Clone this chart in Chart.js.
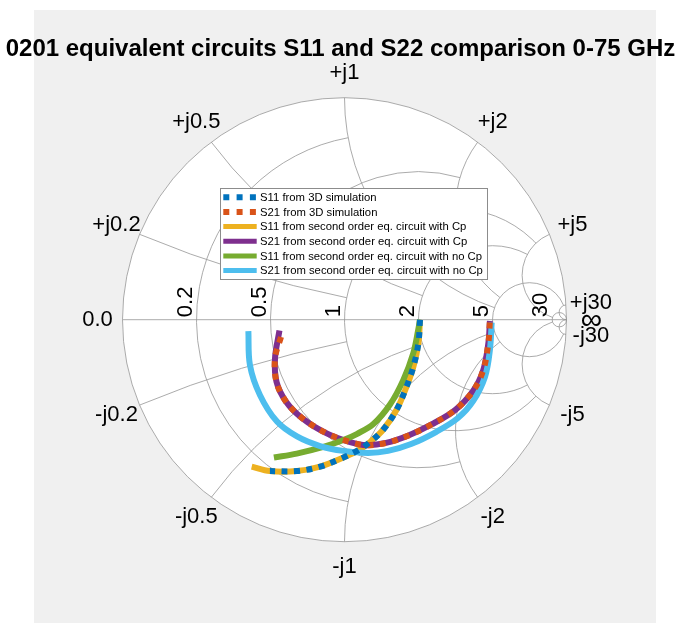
<!DOCTYPE html>
<html>
<head>
<meta charset="utf-8">
<script src="https://cdn.jsdelivr.net/npm/chart.js@4.4.1/dist/chart.umd.min.js"></script>
<style>
  html, body { margin: 0; padding: 0; background: #ffffff; }
  canvas { display: block; }
</style>
</head>
<body>
<canvas id="smith" width="681" height="623"></canvas>
<script>
// ---- text ----
const titleText = '0201 equivalent circuits S11 and S22 comparison 0-75 GHz';
const seriesNames = [
  'S11 from 3D simulation',
  'S21 from 3D simulation',
  'S11 from second order eq. circuit with Cp',
  'S21 from second order eq. circuit with Cp',
  'S11 from second order eq. circuit with no Cp',
  'S21 from second order eq. circuit with no Cp'
];

// ---- Smith grid: circle values and the value at which each circle stops ----
const gridValues = [0.2, 0.5, 1, 2, 5, 30];
const gridLimits = [1, 2, 5, 5, 30, Infinity];
const realAxisLabels = ['0.2', '0.5', '1', '2', '5', '30'];
const upperRimLabels = ['+j0.2', '+j0.5', '+j1', '+j2', '+j5', '+j30'];
const lowerRimLabels = ['-j0.2', '-j0.5', '-j1', '-j2', '-j5', '-j30'];
const leftRimLabel = '0.0';
const rightRimLabel = '\u221E';

// ---- reflection coefficients (real / imaginary parts) ----
const s11Sim_re = [0.340, 0.333, 0.311, 0.279, 0.234, 0.173, 0.115, 0.061, -0.005, -0.110, -0.215, -0.336];
const s11Sim_im = [0.000, -0.105, -0.209, -0.303, -0.407, -0.497, -0.551, -0.589, -0.621, -0.662, -0.682, -0.682];

const s21Sim_re = [-0.286, -0.313, -0.306, -0.264, -0.191, -0.080, 0.025, 0.100, 0.187, 0.288, 0.392, 0.498, 0.579, 0.625, 0.648, 0.655];
const s21Sim_im = [-0.078, -0.174, -0.281, -0.368, -0.443, -0.512, -0.551, -0.565, -0.555, -0.522, -0.472, -0.407, -0.321, -0.227, -0.106, -0.006];

const s11Cp_re = [0.340, 0.333, 0.311, 0.279, 0.234, 0.173, 0.115, 0.061, -0.005, -0.110, -0.215, -0.336, -0.418];
const s11Cp_im = [0.000, -0.105, -0.209, -0.303, -0.407, -0.497, -0.551, -0.589, -0.621, -0.662, -0.682, -0.682, -0.662];

const s21Cp_re = [-0.293, -0.313, -0.306, -0.264, -0.191, -0.080, 0.025, 0.100, 0.187, 0.288, 0.392, 0.498, 0.579, 0.625, 0.648, 0.655];
const s21Cp_im = [-0.049, -0.174, -0.281, -0.368, -0.443, -0.512, -0.551, -0.565, -0.555, -0.522, -0.472, -0.407, -0.321, -0.227, -0.106, -0.006];

const s11NoCp_re = [0.340, 0.332, 0.310, 0.265, 0.205, 0.130, 0.055, -0.005, -0.095, -0.215, -0.318];
const s11NoCp_im = [0.000, -0.046, -0.150, -0.271, -0.382, -0.470, -0.515, -0.542, -0.573, -0.603, -0.621];

const s21NoCp_re = [-0.433, -0.426, -0.381, -0.304, -0.214, -0.110, -0.005, 0.106, 0.196, 0.300, 0.412, 0.511, 0.580, 0.633, 0.655, 0.663];
const s21NoCp_im = [-0.051, -0.204, -0.339, -0.459, -0.526, -0.569, -0.591, -0.600, -0.591, -0.560, -0.506, -0.443, -0.366, -0.257, -0.136, -0.013];

const seriesColors = ['#0072BD', '#D95319', '#EDB120', '#7E2F8E', '#77AC30', '#4DBEEE'];

const FONT = '"Liberation Sans", Arial, Helvetica, sans-serif';
const GRID_COLOR = 'rgb(150,150,150)';

function toPoints(re, im) {
  return re.map((v, i) => ({ x: v, y: im[i] }));
}

// normalized impedance r + jx  ->  reflection coefficient
function gammaOf(r, x) {
  const den = (r + 1) * (r + 1) + x * x;
  return [(r * r - 1 + x * x) / den, (2 * x) / den];
}

const smithGrid = {
  id: 'smithGrid',
  beforeDraw(chart) {
    const { ctx } = chart;
    const xs = chart.scales.x, ys = chart.scales.y;
    const P = (gx, gy) => [xs.getPixelForValue(gx), ys.getPixelForValue(gy)];
    const [cx, cy] = P(0, 0);
    const R = xs.getPixelForValue(1) - cx;

    ctx.save();
    ctx.fillStyle = '#ffffff';
    ctx.fillRect(0, 0, chart.width, chart.height);
    ctx.fillStyle = '#f0f0f0';
    ctx.fillRect(34, 10, 622, 613);

    ctx.beginPath();
    ctx.arc(cx, cy, R, 0, Math.PI * 2);
    ctx.fillStyle = '#ffffff';
    ctx.fill();

    ctx.strokeStyle = GRID_COLOR;
    ctx.lineWidth = 0.8;

    // constant-resistance circles, each drawn for |x| <= its limit
    gridValues.forEach((r, i) => {
      const L = gridLimits[i];
      const c = r / (1 + r);
      const rho = 1 / (1 + r);
      let th = 0;
      if (L !== Infinity) {
        const g = gammaOf(r, L);
        th = Math.atan2(g[1], g[0] - c);
      }
      const [px, py] = P(c, 0);
      ctx.beginPath();
      ctx.arc(px, py, rho * R, th, Math.PI * 2 - th, false);
      ctx.stroke();
    });

    // constant-reactance arcs, each drawn from r = 0 up to its limit
    gridValues.forEach((v, i) => {
      const L = gridLimits[i];
      [v, -v].forEach(x => {
        const g0 = gammaOf(0, x);
        const g1 = L === Infinity ? [1, 0] : gammaOf(L, x);
        const f0 = Math.atan2(g0[1] - 1 / x, g0[0] - 1);
        const f1 = Math.atan2(g1[1] - 1 / x, g1[0] - 1);
        const [px, py] = P(1, 1 / x);
        ctx.beginPath();
        ctx.arc(px, py, R / Math.abs(x), -f0, -f1, x > 0);
        ctx.stroke();
      });
    });

    // real axis and rim
    ctx.beginPath();
    ctx.moveTo(cx - R, cy);
    ctx.lineTo(cx + R, cy);
    ctx.stroke();
    ctx.beginPath();
    ctx.arc(cx, cy, R, 0, Math.PI * 2);
    ctx.stroke();
    ctx.restore();
  },
  afterDraw(chart) {
    const { ctx } = chart;
    const xs = chart.scales.x, ys = chart.scales.y;
    const P = (gx, gy) => [xs.getPixelForValue(gx), ys.getPixelForValue(gy)];
    const [cx, cy] = P(0, 0);
    const R = xs.getPixelForValue(1) - cx;
    const k = (R + 25) / R;

    ctx.save();
    ctx.fillStyle = '#000000';

    // rim labels
    ctx.font = '22px ' + FONT;
    ctx.textAlign = 'center';
    ctx.textBaseline = 'middle';
    gridValues.forEach((v, i) => {
      const gu = gammaOf(0, v);
      const gl = gammaOf(0, -v);
      let p = P(gu[0] * k, gu[1] * k);
      ctx.fillText(upperRimLabels[i], p[0], p[1]);
      p = P(gl[0] * k, gl[1] * k);
      ctx.fillText(lowerRimLabels[i], p[0], p[1]);
    });
    let p = P(-k, 0);
    ctx.fillText(leftRimLabel, p[0], p[1]);
    p = P(k, 0);
    ctx.font = '30px ' + FONT;
    ctx.fillText(rightRimLabel, p[0], p[1] + 1);

    // resistance labels along the real axis
    ctx.font = '22px ' + FONT;
    ctx.textAlign = 'left';
    ctx.textBaseline = 'alphabetic';
    gridValues.forEach((r, i) => {
      const q = P((r - 1) / (r + 1), 0);
      ctx.save();
      ctx.translate(q[0] - 5, q[1] - 2.5);
      ctx.rotate(-Math.PI / 2);
      ctx.fillText(realAxisLabels[i], 0, 0);
      ctx.restore();
    });

    // title
    ctx.font = 'bold 24px ' + FONT;
    ctx.textAlign = 'center';
    ctx.textBaseline = 'alphabetic';
    ctx.fillText(titleText, 340.5, 56);

    // legend
    const bx = 220.5, by = 188.5, bw = 267, bh = 91;
    ctx.fillStyle = '#ffffff';
    ctx.fillRect(bx, by, bw, bh);
    ctx.strokeStyle = '#8c8c8c';
    ctx.lineWidth = 1;
    ctx.strokeRect(bx, by, bw, bh);
    ctx.font = '11.3px ' + FONT;
    ctx.textBaseline = 'middle';
    ctx.textAlign = 'left';
    chart.data.datasets.forEach((ds, i) => {
      const y = 197.3 + i * 14.65;
      ctx.save();
      ctx.strokeStyle = ds.borderColor;
      ctx.lineCap = 'butt';
      if (ds.borderDash && ds.borderDash.length) {
        ctx.lineWidth = 6;
        ctx.setLineDash([6, 7.3]);
      } else {
        ctx.lineWidth = 5;
      }
      ctx.beginPath();
      ctx.moveTo(223.3, y);
      ctx.lineTo(256.7, y);
      ctx.stroke();
      ctx.restore();
      ctx.fillStyle = '#000000';
      ctx.fillText(ds.label, 260, y + 0.5);
    });
    ctx.restore();
  }
};

const lineDefaults = {
  showLine: true,
  pointRadius: 0,
  pointHoverRadius: 0,
  borderWidth: 6,
  borderCapStyle: 'butt',
  borderJoinStyle: 'round',
  tension: 0.35,
  fill: false
};

new Chart(document.getElementById('smith'), {
  type: 'scatter',
  data: {
    datasets: [
      Object.assign({}, lineDefaults, { label: seriesNames[0], data: toPoints(s11Sim_re, s11Sim_im), borderColor: seriesColors[0], borderDash: [6, 6.5], order: 0 }),
      Object.assign({}, lineDefaults, { label: seriesNames[1], data: toPoints(s21Sim_re, s21Sim_im), borderColor: seriesColors[1], borderDash: [6, 6.5], order: 1 }),
      Object.assign({}, lineDefaults, { label: seriesNames[2], data: toPoints(s11Cp_re, s11Cp_im), borderColor: seriesColors[2], order: 5 }),
      Object.assign({}, lineDefaults, { label: seriesNames[3], data: toPoints(s21Cp_re, s21Cp_im), borderColor: seriesColors[3], order: 4 }),
      Object.assign({}, lineDefaults, { label: seriesNames[4], data: toPoints(s11NoCp_re, s11NoCp_im), borderColor: seriesColors[4], order: 3 }),
      Object.assign({}, lineDefaults, { label: seriesNames[5], data: toPoints(s21NoCp_re, s21NoCp_im), borderColor: seriesColors[5], order: 2 })
    ]
  },
  options: {
    responsive: false,
    animation: false,
    devicePixelRatio: 1,
    layout: { padding: { left: 122.5, right: 114.5, top: 97.7, bottom: 81.3 } },
    scales: {
      x: { type: 'linear', min: -1, max: 1, display: false },
      y: { type: 'linear', min: -1, max: 1, display: false }
    },
    plugins: {
      legend: { display: false },
      tooltip: { enabled: false },
      title: { display: false }
    },
    events: []
  },
  plugins: [smithGrid]
});
</script>
</body>
</html>
